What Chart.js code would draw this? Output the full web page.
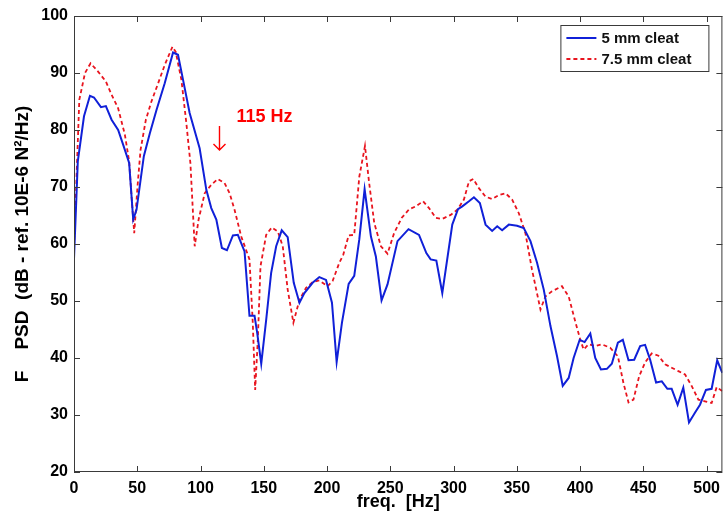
<!DOCTYPE html>
<html>
<head>
<meta charset="utf-8">
<script src="https://cdn.jsdelivr.net/npm/chart.js@4.4.0/dist/chart.umd.min.js"></script>
<style>
  html, body { margin: 0; padding: 0; background: #fff; }
  #wrap { width: 727px; height: 519px; }
</style>
</head>
<body>
<div id="wrap"><canvas id="psdChart"></canvas></div>
<script>
// 5 mm cleat (blue, solid)
const freq5 = [0, 3, 7.9, 12.6, 15.8, 21.3, 25.2, 29.7, 34.9, 38.9, 43.6, 46.8, 49.4, 55.2, 59.9, 65.2, 71.7, 78.3, 82.2, 86.2, 91.4, 99.3,
  104.6, 108.5, 112.5, 116.9, 120.9, 125.6, 129.5, 134.8, 138.7, 142.7, 144.8, 148, 151.9, 155.8, 159.8, 164.2, 168.9, 173.7, 178.2,
  182.1, 188.6, 193.9, 199.2, 203.9, 207.6, 211.8, 217.1, 221.5, 225.5, 229.7, 234.7, 238.6, 243.1, 247.8, 255.7, 264.4, 272.7, 278.5,
  281.9, 286.4, 291.1, 299, 303.5, 306.9, 312.2, 316.1, 320.8, 325.3, 330.5, 334.5, 338.4, 343.7, 350.2, 355.5, 360.8, 366, 371.3,
  376.6, 381.8, 386.3, 391, 394.9, 399.7, 403.6, 408.1, 412, 416.5, 421.2, 425.1, 429.9, 433.8, 438.3, 442.8, 447.5, 451.4, 455.4,
  460.1, 464.6, 469, 472.4, 477.1, 481.6, 486.1, 490.8, 494.8, 499.5, 504, 508.4, 512.4];
const psd5 = [57.4, 74.5, 82.4, 86.0, 85.7, 84.0, 84.2, 81.8, 80.0, 77.4, 74.2, 64.3, 66.0, 75.4, 79.4, 83.5, 88.2, 93.6, 93.2, 88.8, 83.0, 76.8,
  69.5, 66.3, 64.3, 59.3, 58.9, 61.5, 61.6, 58.7, 47.4, 47.4, 44.4, 39.0, 46.7, 54.9, 59.6, 62.4, 61.2, 53.2, 49.7,
  51.4, 53.2, 54.2, 53.7, 49.7, 39.3, 46.2, 53.0, 54.4, 60.8, 69.6, 61.3, 57.8, 50.1, 52.9, 60.5, 62.6, 61.6, 58.4,
  57.3, 57.1, 51.4, 63.4, 66.1, 66.6, 67.5, 68.2, 67.2, 63.4, 62.3, 63.1, 62.4, 63.4, 63.2, 62.8, 60.5, 56.7, 52.0,
  45.6, 40.3, 35.1, 36.5, 40.0, 43.2, 42.8, 44.3, 40.0, 38.0, 38.1, 39.0, 42.7, 43.2, 39.6, 39.7, 42.1, 42.3, 39.7,
  35.7, 35.9, 34.6, 34.6, 31.8, 34.8, 28.7, 30.4, 31.8, 34.4, 34.6, 39.6, 37.4];

// 7.5 mm cleat (red, dashed)
const freq75 = [0, 4.2, 8.7, 13.1, 19.2, 25.2, 29.7, 34.9, 40.2, 43.6, 45.5, 47.6, 50.2, 52.6, 56.8, 61.2, 66.5, 71.7, 77.8, 80.4, 84.9,
  88.8, 92, 95.4, 98.5, 103.3, 108.5, 113.7, 119, 123, 126.9, 132.2, 138.7, 141.3, 143.2, 145.3, 147.4, 151.9, 156.3, 161.1, 165,
  168.9, 173.4, 178.2, 183.4, 188.6, 193.9, 200.5, 204.4, 209.7, 212.8, 217.1, 221.5, 225.5, 230, 233.3, 237.3, 242.6, 247.8, 253,
  259.1, 264.9, 270.1, 275.9, 280.6, 285.9, 291.1, 297.7, 302.9, 308.2, 312.2, 315.6, 320, 325.3, 330.5, 335.8, 341.1, 346.3, 351.6,
  356.8, 362, 368.7, 372.6, 377.8, 385.7, 391, 396.2, 400.2, 402.8, 406.7, 412, 417.2, 423.8, 429.9, 434.3, 438.3, 442.2, 446.7,
  451.4, 456.6, 461.9, 467.2, 472.4, 477.7, 483, 488.2, 493.5, 498.7, 504, 508, 512.4];
const psd75 = [59.5, 85.3, 90.0, 91.7, 90.2, 88.5, 86.2, 83.8, 79.2, 74.5, 68.3, 61.9, 70.1, 76.5, 81.8, 85.0, 88.2, 91.4, 94.6, 93.7, 88.8,
  81.2, 74.2, 59.6, 64.3, 68.9, 70.4, 71.4, 70.7, 68.9, 66.0, 61.3, 57.3, 46.2, 34.4, 43.2, 56.1, 61.6, 62.9, 62.2, 59.6,
  52.0, 46.2, 50.2, 52.3, 53.3, 53.6, 52.6, 53.5, 56.7, 58.1, 61.5, 61.6, 71.8, 77.2, 70.7, 63.7, 59.6, 58.3, 61.9,
  64.6, 66.1, 66.6, 67.5, 66.3, 64.6, 64.4, 65.1, 66.0, 67.8, 71.0, 71.4, 69.8, 68.3, 67.9, 68.6, 68.9, 67.8, 65.4,
  61.9, 55.5, 48.5, 50.8, 51.7, 52.6, 50.8, 46.4, 43.2, 41.5, 42.4, 42.1, 42.4, 41.8, 40.3, 35.6, 32.2, 32.7, 36.8,
  39.2, 40.8, 40.4, 38.9, 38.3, 37.7, 37.1, 35.1, 32.7, 32.4, 32.1, 34.9, 34.2];

const seriesNames = ["5 mm cleat", "7.5 mm cleat"];
const seriesColors = ["#1020d8", "#e8141e"];
const xTicks = [0, 50, 100, 150, 200, 250, 300, 350, 400, 450, 500];
const yTicks = [20, 30, 40, 50, 60, 70, 80, 90, 100];
const markFreq = 115;
const markText = "115 Hz";

const FONT = 'Arial, "Liberation Sans", sans-serif';

const toPoints = (xs, ys) => xs.map((x, i) => ({ x: x, y: ys[i] }));

// box, inward ticks, legend and the 115 Hz marker, matlab style
const decorPlugin = {
  id: "decor",
  afterDraw(chart) {
    const ctx = chart.ctx;
    const a = chart.chartArea;
    const xs = chart.scales.x, ys = chart.scales.y;
    ctx.save();
    ctx.strokeStyle = "#3a3a3a";
    ctx.lineWidth = 1;
    ctx.strokeRect(a.left + 0.5, a.top + 0.5, a.right - a.left - 1, a.bottom - a.top - 1);
    ctx.beginPath();
    xTicks.forEach(v => {
      const px = Math.round(xs.getPixelForValue(v)) + 0.5;
      ctx.moveTo(px, a.bottom); ctx.lineTo(px, a.bottom - 6);
      ctx.moveTo(px, a.top); ctx.lineTo(px, a.top + 6);
    });
    yTicks.forEach(v => {
      const py = Math.round(ys.getPixelForValue(v)) + 0.5;
      ctx.moveTo(a.left, py); ctx.lineTo(a.left + 6, py);
      ctx.moveTo(a.right, py); ctx.lineTo(a.right - 6, py);
    });
    ctx.stroke();

    // marker arrow + label
    const mx = xs.getPixelForValue(markFreq);
    const y0 = ys.getPixelForValue(80.7), y1 = ys.getPixelForValue(76.5);
    ctx.strokeStyle = "#ff0000";
    ctx.lineWidth = 1.4;
    ctx.beginPath();
    ctx.moveTo(mx, y0); ctx.lineTo(mx, y1);
    ctx.moveTo(mx - 6, y1 - 6); ctx.lineTo(mx, y1); ctx.lineTo(mx + 6, y1 - 6);
    ctx.stroke();
    ctx.fillStyle = "#ff0000";
    ctx.font = "bold 18px " + FONT;
    ctx.textBaseline = "middle";
    ctx.textAlign = "left";
    ctx.fillText(markText, mx + 17, ys.getPixelForValue(82.2));

    // legend
    const bx = a.right - 162, by = a.top + 9, bw = 148, bh = 46;
    ctx.fillStyle = "#fff";
    ctx.fillRect(bx, by, bw, bh);
    ctx.strokeStyle = "#3a3a3a";
    ctx.lineWidth = 1;
    ctx.strokeRect(bx + 0.5, by + 0.5, bw, bh);
    chart.data.datasets.forEach((ds, i) => {
      const ly = by + 13 + i * 21;
      ctx.strokeStyle = ds.borderColor;
      ctx.lineWidth = ds.borderWidth;
      ctx.setLineDash(ds.borderDash || []);
      ctx.beginPath();
      ctx.moveTo(bx + 6, ly); ctx.lineTo(bx + 36, ly);
      ctx.stroke();
      ctx.setLineDash([]);
      ctx.fillStyle = "#111";
      ctx.font = "bold 15px " + FONT;
      ctx.fillText(ds.label, bx + 41, ly + 1);
    });
    ctx.restore();
  }
};

new Chart(document.getElementById("psdChart"), {
  type: "line",
  data: {
    datasets: [{
      label: seriesNames[0],
      data: toPoints(freq5, psd5),
      borderColor: seriesColors[0],
      borderWidth: 2,
      pointRadius: 0,
      tension: 0
    }, {
      label: seriesNames[1],
      data: toPoints(freq75, psd75),
      borderColor: seriesColors[1],
      borderWidth: 1.8,
      borderDash: [4, 3],
      pointRadius: 0,
      tension: 0
    }]
  },
  options: {
    responsive: true,
    maintainAspectRatio: false,
    animation: false,
    layout: { padding: { top: 16, right: 3, left: 0, bottom: 0 } },
    plugins: {
      legend: { display: false },
      tooltip: { enabled: false }
    },
    scales: {
      x: {
        type: "linear",
        min: 0,
        max: 512.5,
        afterBuildTicks: s => { s.ticks = xTicks.map(v => ({ value: v })); },
        afterFit: s => { s.height = 47; },
        grid: { display: false, drawTicks: false },
        border: { display: false },
        ticks: {
          color: "#000",
          padding: 7,
          maxRotation: 0,
          autoSkip: false,
          font: { family: FONT, size: 16, weight: "bold" }
        },
        title: {
          display: true,
          text: "freq.  [Hz]",
          color: "#000",
          padding: { top: 0, bottom: 6 },
          font: { family: FONT, size: 18, weight: "bold" }
        }
      },
      y: {
        min: 20,
        max: 100,
        afterBuildTicks: s => { s.ticks = yTicks.map(v => ({ value: v })); },
        afterFit: s => { s.width = 74; },
        grid: { display: false, drawTicks: false },
        border: { display: false },
        ticks: {
          color: "#000",
          padding: 6,
          font: { family: FONT, size: 16, weight: "bold" }
        },
        title: {
          display: true,
          text: "F    PSD  (dB - ref. 10E-6 N²/Hz)",
          color: "#000",
          padding: { top: 11, bottom: 0 },
          font: { family: FONT, size: 19, weight: "bold" }
        }
      }
    }
  },
  plugins: [decorPlugin]
});
</script>
</body>
</html>
